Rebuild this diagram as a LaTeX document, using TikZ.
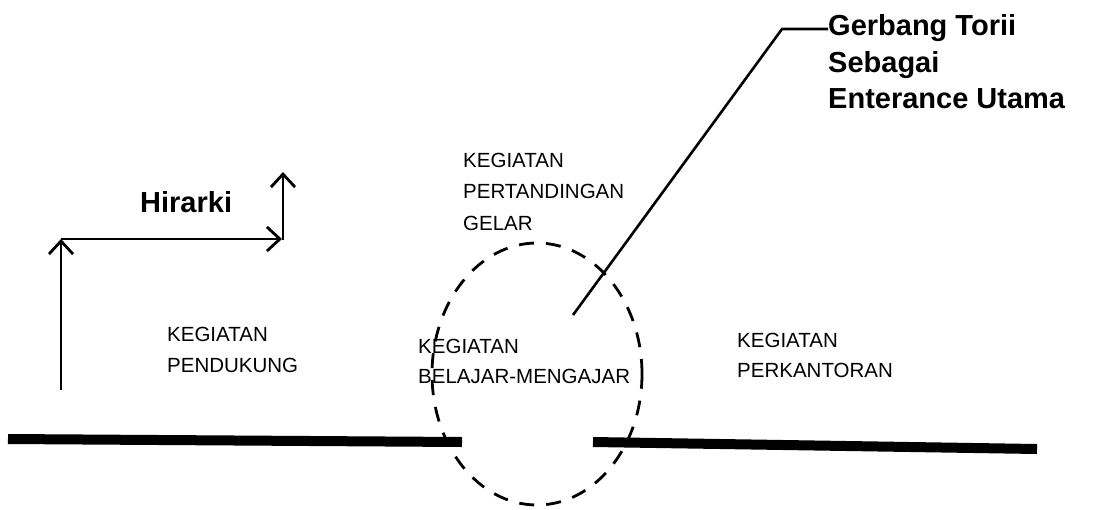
\documentclass[tikz,border=0pt]{standalone}
\usepackage{fontspec}
\setmainfont{Liberation Sans}
\usetikzlibrary{arrows.meta,shapes.geometric}
\tikzset{
  lbl/.style={anchor=base west, inner sep=0pt, font=\fontsize{20.5}{24}\selectfont},
  title/.style={anchor=base west, inner sep=0pt, font=\fontsize{29}{34}\bfseries},
  hier/.style={line width=2.8pt, -{Straight Barb[length=13pt,width=24pt,line width=2.8pt]}},
  leader/.style={line width=2.6pt},
  wall/.style={line width=10pt},
  zone/.style={line width=2.8pt, dash pattern=on 15pt off 12pt}
}
\begin{document}
\begin{tikzpicture}[x=1pt,y=-1pt]
\useasboundingbox (0,0) rectangle (1108,509);
% hierarchy arrows
\coordinate (h0) at (61,390);
\coordinate (h1) at (61,239);
\coordinate (h2) at (282,239);
\coordinate (h3) at (283,240);
\coordinate (h4) at (283,172);
\draw[hier] (h0) -- (h1);
\draw[hier] (h1) -- (h2);
\draw[hier] (h3) -- (h4);
\node[title] (hir) at (140,212) {Hirarki};
% walls
\coordinate (wl0) at (8,439);
\coordinate (wl1) at (462,442);
\coordinate (wr0) at (593,442);
\coordinate (wr1) at (1037,449);
\draw[wall] (wl0) -- (wl1);
\draw[wall] (wr0) -- (wr1);
% dashed zone
\node[draw, zone, ellipse, minimum width=210pt, minimum height=262pt, inner sep=0pt] (zone) at (537,374) {};
% labels
\node[lbl] (p1) at (463,167) {KEGIATAN};
\node[lbl] (p2) at (463,198) {PERTANDINGAN};
\node[lbl] (p3) at (463,230) {GELAR};
\node[lbl] (d1) at (167,341) {KEGIATAN};
\node[lbl] (d2) at (167,372) {PENDUKUNG};
\node[lbl] (b1) at (418,353) {KEGIATAN};
\node[lbl] (b2) at (418,383) {BELAJAR-MENGAJAR};
\node[lbl] (k1) at (737,347) {KEGIATAN};
\node[lbl] (k2) at (737,377) {PERKANTORAN};
% gate title and leader
\node[title] (g1) at (828,35) {Gerbang Torii};
\node[title] (g2) at (828,72) {Sebagai};
\node[title] (g3) at (828,108) {Enterance Utama};
\coordinate (lk) at (782,29);
\coordinate (le) at (573,315);
\draw[leader] (g1.west |- lk) -- (lk) -- (le);
\end{tikzpicture}
\end{document}
